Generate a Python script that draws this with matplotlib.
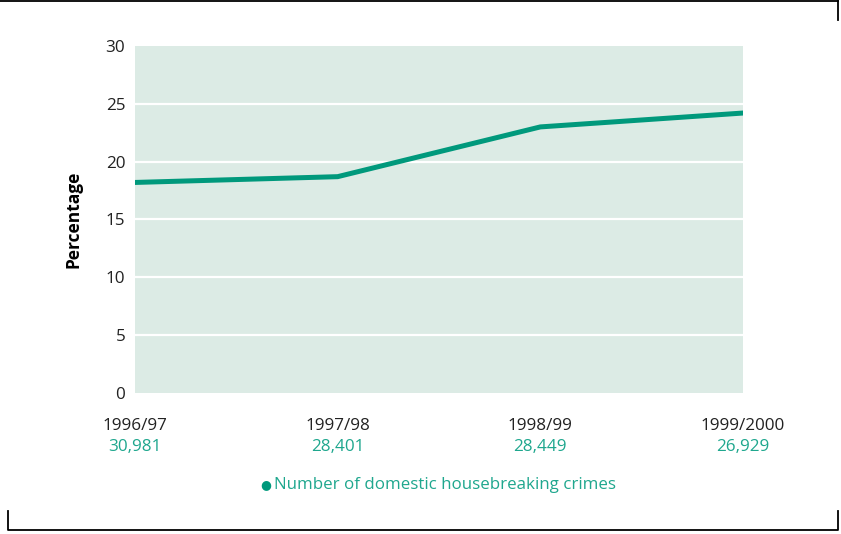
import matplotlib
matplotlib.use('Agg')
import matplotlib.pyplot as plt
from matplotlib.lines import Line2D

# dane: odsetek przestępstw i liczba włamań
years = ['1996/97', '1997/98', '1998/99', '1999/2000']
counts = ['30,981', '28,401', '28,449', '26,929']
percentage = [18.2, 18.7, 23.0, 24.2]
yticks = [0, 5, 10, 15, 20, 25, 30]

green = '#00997c'
textGreen = '#1fa78e'
bg = '#dcebe5'

plt.rcParams['font.family'] = ['Open Sans', 'DejaVu Sans']

fig = plt.figure(figsize=(8.41, 5.34), dpi=100)
ax = fig.add_axes([0.1605, 0.264, 0.723, 0.650])
ax.set_facecolor(bg)

xs = list(range(len(years)))
ax.plot(xs, percentage, color=green, lw=3.6, solid_joinstyle='miter', zorder=3)

ax.set_xlim(0, len(years) - 1)
ax.set_ylim(0, 30)
ax.set_yticks(yticks)
ax.set_yticklabels([str(t) for t in yticks], fontsize=12.3, color='#222222')
ax.tick_params(axis='y', length=0, pad=7)
ax.set_xticks([])
for t in yticks[1:-1]:
    ax.axhline(t, color='white', lw=1.6, zorder=1)
for s in ax.spines.values():
    s.set_visible(False)

ax.set_ylabel('Percentage', fontsize=12.5, fontweight='bold', labelpad=17)

# podpisy lat i liczby przestępstw pod osią
for x, yr, c in zip(xs, years, counts):
    ax.annotate(yr, xy=(x, 0), xycoords=('data', 'axes fraction'), xytext=(0, -24),
                textcoords='offset points', ha='center', va='center', fontsize=12.3, color='#222222')
    ax.annotate(c, xy=(x, 0), xycoords=('data', 'axes fraction'), xytext=(0, -39),
                textcoords='offset points', ha='center', va='center', fontsize=12.3, color=textGreen)

# legenda
fig.text(0.3165, 1 - 485 / 534, '\u25cf', color=green, fontsize=9, ha='center', va='center')
fig.text(0.326, 1 - 485 / 534, 'Number of domestic housebreaking crimes', color=textGreen,
         fontsize=12.2, ha='left', va='center')

# ramka
W, H = 841.0, 534.0
def fl(xp, yp):
    fig.add_artist(Line2D([x / W for x in xp], [1 - y / H for y in yp], color='black', lw=1.3))

fl([0, 838], [1, 1])
fl([838, 838], [1, 20])
fl([8, 8, 838, 838], [511, 530, 530, 511])

fig.savefig('out.png', dpi=100)
